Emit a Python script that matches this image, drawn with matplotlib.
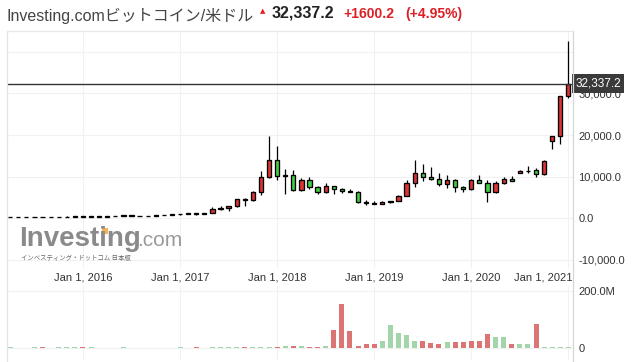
import matplotlib
matplotlib.use('Agg')
import matplotlib.pyplot as plt
from matplotlib.patches import Rectangle
from matplotlib.lines import Line2D
import matplotlib.transforms as mtransforms

# ---------------- data ----------------
months = ['2015-04', '2015-05', '2015-06', '2015-07', '2015-08', '2015-09', '2015-10', '2015-11', '2015-12',
          '2016-01', '2016-02', '2016-03', '2016-04', '2016-05', '2016-06', '2016-07', '2016-08', '2016-09',
          '2016-10', '2016-11', '2016-12',
          '2017-01', '2017-02', '2017-03', '2017-04', '2017-05', '2017-06', '2017-07', '2017-08', '2017-09',
          '2017-10', '2017-11', '2017-12',
          '2018-01', '2018-02', '2018-03', '2018-04', '2018-05', '2018-06', '2018-07', '2018-08', '2018-09',
          '2018-10', '2018-11', '2018-12',
          '2019-01', '2019-02', '2019-03', '2019-04', '2019-05', '2019-06', '2019-07', '2019-08', '2019-09',
          '2019-10', '2019-11', '2019-12',
          '2020-01', '2020-02', '2020-03', '2020-04', '2020-05', '2020-06', '2020-07', '2020-08', '2020-09',
          '2020-10', '2020-11', '2020-12',
          '2021-01']

opens = [244, 236, 230, 263, 284, 230, 236, 314, 378,
         430, 368, 437, 416, 448, 531, 673, 624, 574, 609, 700, 745,
         964, 965, 1190, 1080, 1350, 2300, 2480, 2850, 4700, 4300, 6400, 9900,
         14000, 10100, 10300, 6900, 9200, 7500, 6400, 7700, 7000, 6600, 6350, 4000,
         3700, 3450, 3800, 4100, 5300, 8600, 10800, 10000, 9500, 8250, 9200, 7500,
         7000, 9300, 8600, 6300, 8600, 9450, 10850, 11350, 11600, 10650, 18600, 19800,
         29400]
highs = [261, 247, 267, 318, 285, 243, 336, 502, 465,
         462, 446, 440, 466, 550, 777, 704, 626, 628, 740, 758, 975,
         1150, 1211, 1291, 1350, 2790, 3000, 2900, 4750, 4950, 6450, 11400, 19900,
         17400, 11800, 11700, 9800, 10000, 7800, 8500, 7800, 7400, 7000, 6500, 4300,
         4050, 4200, 4200, 5600, 9100, 14000, 13100, 12400, 10800, 10400, 9500, 7700,
         9500, 10300, 9200, 9000, 10000, 10200, 11500, 12500, 12000, 13950, 19900, 29400,
         42500]
lows = [214, 228, 220, 253, 199, 225, 236, 310, 350,
        352, 366, 406, 414, 436, 530, 605, 535, 569, 604, 687, 740,
        755, 940, 890, 1066, 1350, 2100, 1800, 2700, 2950, 4100, 5500, 9600,
        9200, 5800, 6600, 6500, 7000, 5800, 6100, 5900, 6100, 6200, 3600, 3200,
        3400, 3400, 3700, 4050, 5300, 7450, 9000, 9300, 7800, 7400, 6400, 6400,
        6800, 8400, 3800, 6100, 8200, 8900, 10800, 10900, 10000, 10500, 16600, 17800,
        29000]
closes = [236, 230, 263, 284, 230, 236, 314, 378, 430,
          368, 437, 416, 448, 531, 673, 624, 574, 609, 700, 745, 964,
          965, 1190, 1080, 1348, 2300, 2480, 2850, 4700, 4300, 6400, 9900, 14000,
          10100, 10300, 6900, 9200, 7500, 6400, 7700, 7000, 6600, 6350, 4000, 3700,
          3450, 3800, 4100, 5300, 8600, 10800, 10000, 9500, 8250, 9200, 7500, 7000,
          9300, 8600, 6300, 8600, 9450, 9000, 11400, 11450, 10650, 13800, 19800, 29400,
          32337.2]
# volume in millions
volumes = [4, 0, 0, 4, 4, 0, 4, 4, 4,
           4, 4, 0, 0, 0, 4, 0, 0, 0, 0, 0, 0,
           4, 0, 4, 0, 4, 4, 4, 4, 4, 4, 4, 4,
           4, 6, 6, 6, 4, 4, 7, 62, 154, 59, 8, 13,
           13, 24, 80, 52, 45, 24, 24, 16, 13, 20, 20, 20,
           24, 24, 48, 39, 39, 13, 13, 13, 84, 3, 3, 3,
           5]
vol_colors = ['g', 'g', 'g', 'g', 'r', 'g', 'g', 'g', 'g',
              'r', 'g', 'g', 'g', 'g', 'g', 'g', 'g', 'g', 'g', 'g', 'g',
              'g', 'g', 'r', 'g', 'g', 'g', 'g', 'g', 'r', 'g', 'g', 'g',
              'r', 'g', 'r', 'g', 'r', 'r', 'g', 'r', 'r', 'r', 'r', 'r',
              'r', 'g', 'g', 'g', 'g', 'g', 'r', 'r', 'r', 'g', 'r', 'r',
              'r', 'r', 'r', 'g', 'g', 'r', 'g', 'g', 'r', 'g', 'g', 'g',
              'g']

x_tick_months = ['2016-01', '2017-01', '2018-01', '2019-01', '2020-01', '2021-01']
x_tick_labels = ['Jan 1, 2016', 'Jan 1, 2017', 'Jan 1, 2018', 'Jan 1, 2019', 'Jan 1, 2020', 'Jan 1, 2021']
price_ticks = [-10000, 0, 10000, 20000, 30000]
price_grid = [-10000, 0, 10000, 20000, 30000, 40000]
vol_ticks = [0, 200]
vol_tick_labels = ['0', '200.0M']

title = 'Investing.comビットコイン/米ドル'
last_price = 32337.2
last_price_text = '32,337.2'
change_text = '+1600.2'
change_pct_text = '(+4.95%)'

# ---------------- style ----------------
RED = '#dd3434'
GREEN = '#45cc45'
VRED = '#dc7474'
VGREEN = '#a2d6aa'
GRID = '#f1f1f1'
TXT = '#333333'
LAT = ['Liberation Sans', 'Noto Sans CJK JP', 'DejaVu Sans']

W, H = 634, 362
fig = plt.figure(figsize=(W / 100, H / 100), dpi=100)


def fx(px):
    return px / W


def fy(py):
    return 1 - py / H


L, R = 7, 573
ax = fig.add_axes([fx(L), fy(268), fx(R) - fx(L), fy(31) - fy(268)])
axv = fig.add_axes([fx(L), fy(360), fx(R) - fx(L), fy(286) - fy(360)])

xs = list(range(len(months)))
xlim = (-0.39, len(months) - 0.43)
for a in (ax, axv):
    a.set_xlim(*xlim)
    for s in a.spines.values():
        s.set_visible(False)
    a.set_facecolor('white')
    a.tick_params(axis='x', which='both', length=0, labelbottom=False)
    a.yaxis.tick_right()
    a.tick_params(axis='y', length=0, pad=4, labelsize=8, labelcolor=TXT)

ax.set_ylim(-11950, 45020)
axv.set_ylim(-41.7, 215.7)

tick_idx = [months.index(m) for m in x_tick_months]

# gridlines
for g in price_grid:
    ax.axhline(g, color=GRID, lw=0.8, zorder=0)
for t in tick_idx:
    ax.axvline(t, color=GRID, lw=0.8, zorder=0)
    axv.axvline(t, color=GRID, lw=0.8, zorder=0)
for g in vol_ticks:
    axv.axhline(g, color=GRID, lw=0.8, zorder=0)

# candles
bw = 0.52
for i in xs:
    o, h, l, c = opens[i], highs[i], lows[i], closes[i]
    col = RED if c >= o else GREEN
    ax.plot([i, i], [l, h], color='black', lw=0.9, zorder=2, solid_capstyle='butt')
    ax.add_patch(Rectangle((i - bw / 2, min(o, c)), bw, abs(c - o), facecolor=col,
                           edgecolor='black', lw=0.95, zorder=3))

# last price line
ax.axhline(last_price, color='#333333', lw=1.0, zorder=4)

# y ticks
ax.set_yticks(price_ticks)
ax.set_yticklabels([f'{v:,.1f}' for v in price_ticks], family=LAT)
axv.set_yticks(vol_ticks)
axv.set_yticklabels(vol_tick_labels, family=LAT)

# price label box
trans = mtransforms.blended_transform_factory(ax.transAxes, ax.transData)
ax.text(1.004, last_price, last_price_text, transform=trans, ha='left', va='center',
        fontsize=8.5, color='white', family=LAT, clip_on=False, zorder=10,
        bbox=dict(boxstyle='square,pad=0.3', fc='#3a3a3a', ec='none'))

# volume bars
axv.bar(xs, volumes, width=0.62, color=[VRED if c == 'r' else VGREEN for c in vol_colors],
        zorder=2, linewidth=0)

# x labels (between panels)
xtrans = mtransforms.blended_transform_factory(ax.transData, fig.transFigure)
for k, (t, lab) in enumerate(zip(tick_idx, x_tick_labels)):
    if k == len(tick_idx) - 1:
        fig.text(fx(R - 1), fy(278), lab, ha='right', va='center', fontsize=8, color=TXT, family=LAT)
    else:
        fig.text(t, fy(278), lab, transform=xtrans, ha='center', va='center', fontsize=8,
                 color=TXT, family=LAT)

# borders
fig.add_artist(Line2D([fx(L), fx(L)], [fy(31), fy(361)], color='#e4e4e4', lw=0.9))
fig.add_artist(Line2D([fx(R), fx(R)], [fy(31), fy(361)], color='#d3d7dc', lw=0.9))
fig.add_artist(Line2D([fx(L), fx(R)], [fy(31), fy(31)], color='#e8e8e8', lw=0.9))

# header
fig.text(fx(7), fy(15.5), title, ha='left', va='center', fontsize=11.5, color='#444444', family=LAT)
fig.text(fx(263), fy(11), '▲', ha='center', va='center', fontsize=5, color='#e0201b', family=['DejaVu Sans'])
fig.text(fx(272), fy(13.5), last_price_text, ha='left', va='center', fontsize=11.5, color='#222222',
         fontweight='bold', family=LAT)
fig.text(fx(343), fy(14), change_text, ha='left', va='center', fontsize=10, color='#dc1f26',
         fontweight='bold', family=LAT)
fig.text(fx(405), fy(14), change_pct_text, ha='left', va='center', fontsize=10, color='#dc1f26',
         fontweight='bold', family=LAT)

# watermark
fig.text(fx(19), fy(246), 'Investing', ha='left', va='baseline', fontsize=20, color='#8a8a8a',
         fontweight='bold', family=LAT)
fig.text(fx(137), fy(246), '.com', ha='left', va='baseline', fontsize=15, color='#9a9a9a', family=LAT)
fig.add_artist(Rectangle((fx(101.5), fy(233.5)), fx(6), 6 / H, facecolor='#f6b35a', edgecolor='none'))
fig.text(fx(21), fy(258), 'インベスティング・ドットコム 日本版', ha='left', va='center', fontsize=4.6,
         color='#666666', family=['Noto Sans CJK JP', 'DejaVu Sans'])

fig.savefig('out.png', dpi=100)
